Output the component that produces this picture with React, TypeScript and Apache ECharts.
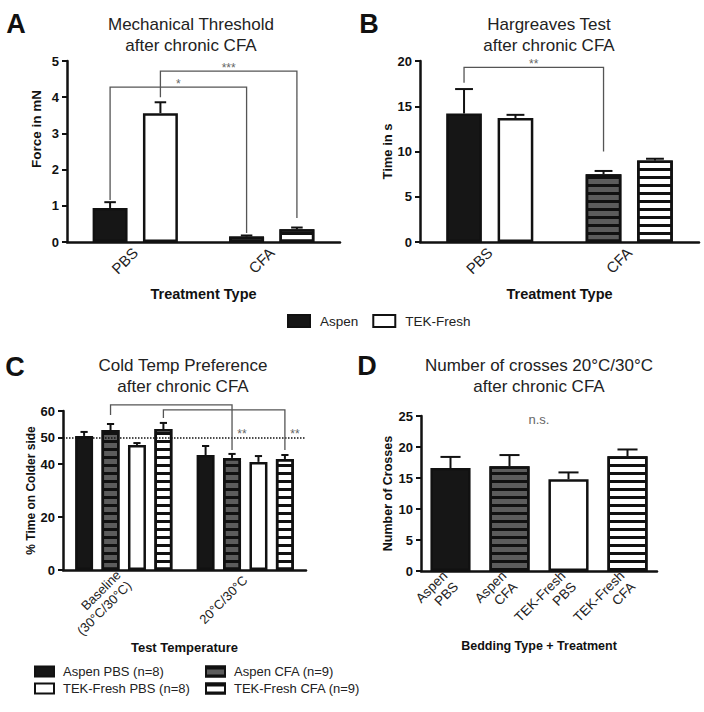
import React, { useEffect, useRef } from 'react';
import * as echarts from 'echarts';

// ---------- data ----------
const treatmentCats = ['PBS', 'CFA'];
const beddingNames = ['Aspen', 'TEK-Fresh'];

const mechAspen = [0.94, 0.15];
const mechAspenErr = [1.1, 0.18];
const mechTek = [3.56, 0.35];
const mechTekErr = [3.86, 0.4];

const hargAspen = [14.2, 7.5];
const hargAspenErr = [16.9, 7.85];
const hargTek = [13.7, 9.0];
const hargTekErr = [14.05, 9.2];

const tempCats = ['Baseline\n(30°C/30°C)', '20°C/30°C'];
const coldNames = ['Aspen PBS (n=8)', 'Aspen CFA (n=9)', 'TEK-Fresh PBS (n=8)', 'TEK-Fresh CFA (n=9)'];
const coldAspenPBS = [50.6, 43.4];
const coldAspenPBSErr = [52.1, 46.8];
const coldAspenCFA = [52.8, 42.3];
const coldAspenCFAErr = [55.1, 43.8];
const coldTekPBS = [47.2, 40.8];
const coldTekPBSErr = [47.9, 43.0];
const coldTekCFA = [53.2, 41.9];
const coldTekCFAErr = [55.5, 43.4];
const coldTicks = [0, 20, 40, 50, 60];
const coldReference = 50;

const crossCats = ['Aspen\nPBS', 'Aspen\nCFA', 'TEK-Fresh\nPBS', 'TEK-Fresh\nCFA'];
const crossMeans = [16.6, 16.9, 14.8, 18.5];
const crossErr = [18.4, 18.7, 15.9, 19.6];

// significance brackets: [category, seriesIndex, start value] -> [category, seriesIndex, end value], top value
const mechBrackets = [
  { c1: 0, s1: 0, y1: 1.16, c2: 1, s2: 0, y2: 0.25, top: 4.28, text: '*', mode: 'top' },
  { c1: 0, s1: 1, y1: 4.0, c2: 1, s2: 1, y2: 0.66, top: 4.72, text: '***', mode: 'top' },
];
const hargBrackets = [
  { c1: 0, s1: 0, y1: 17.6, c2: 1, s2: 0, y2: 10.0, top: 19.3, text: '**', mode: 'top' },
];
const coldBrackets = [
  { c1: 0, s1: 1, y1: 58.5, c2: 1, s2: 1, y2: 45.3, top: 62.3, text: '**', mode: 'side', labelY: 51.3 },
  { c1: 0, s1: 3, y1: 57.4, c2: 1, s2: 3, y2: 45.3, top: 60.4, text: '**', mode: 'side', labelY: 51.3 },
];
const crossNote = 'n.s.';
const crossNoteY = 24.4;

// ---------- styles ----------
const FONT = '"Liberation Sans", Arial, Helvetica, sans-serif';
const INK = '#111';
const stripe = { symbol: 'rect', symbolSize: 1, dashArrayX: [1, 0], dashArrayY: [3, 5], rotation: 0, color: INK };
const ST = {
  aspenPBS: { color: '#161616', borderColor: INK, borderWidth: 2.5 },
  tekPBS: { color: '#ffffff', borderColor: INK, borderWidth: 2.5 },
  aspenCFA: { color: '#5c5c5c', borderColor: INK, borderWidth: 2.5, decal: stripe },
  tekCFA: { color: '#ffffff', borderColor: INK, borderWidth: 2.5, decal: stripe },
};

function xAxisOf(gi: number, cats: string[], name: string, nameGap: number, nameSize: number, labelSize: number) {
  return {
    type: 'category', gridIndex: gi, data: cats, name, nameLocation: 'middle', nameGap,
    nameTextStyle: { fontFamily: FONT, fontWeight: 'bold', fontSize: nameSize, color: INK },
    axisLine: { lineStyle: { color: INK, width: 2.5 } },
    axisTick: { alignWithLabel: true, length: 6, lineStyle: { color: INK, width: 2 } },
    axisLabel: { rotate: 45, margin: 8, fontFamily: FONT, fontSize: labelSize, color: '#222', interval: 0, lineHeight: labelSize + 2 },
    splitLine: { show: false },
  };
}

function yAxisOf(gi: number, max: number, interval: number, name: string, nameGap: number, nameSize: number, custom?: number[]) {
  const ax: any = {
    type: 'value', gridIndex: gi, min: 0, max, interval, name, nameLocation: 'middle', nameGap,
    nameTextStyle: { fontFamily: FONT, fontWeight: 'bold', fontSize: nameSize, color: INK },
    axisLine: { show: true, lineStyle: { color: INK, width: 2.5 } },
    axisTick: { show: true, length: 5, lineStyle: { color: INK, width: 2 } },
    axisLabel: { margin: 8, fontFamily: FONT, fontWeight: 'bold', fontSize: 13, color: INK },
    splitLine: { show: false },
  };
  if (custom) {
    ax.axisLabel.customValues = custom;
    ax.axisTick.customValues = custom;
  }
  return ax;
}

function errData(means: number[][], errs: number[][]) {
  const out: number[][] = [];
  means.forEach((m, s) => m.forEach((v, c) => out.push([c, v, errs[s][c], s])));
  return out;
}

function errorSeries(gi: number, n: number, wFrac: number, gap: number, capFrac: number, data: number[][]) {
  return {
    type: 'custom', xAxisIndex: gi, yAxisIndex: gi, z: 5, silent: true, clip: false,
    data,
    renderItem: (params: any, api: any) => {
      const cat = api.value(0), mean = api.value(1), err = api.value(2), s = api.value(3);
      const band = api.size([1, 0])[0];
      const bw = band * wFrac;
      const off = (s - (n - 1) / 2) * bw * (1 + gap);
      const p0 = api.coord([cat, mean]);
      const p1 = api.coord([cat, err]);
      const x = p0[0] + off;
      const cap = (bw * capFrac) / 2;
      const st = { stroke: INK, lineWidth: 2 };
      return {
        type: 'group',
        children: [
          { type: 'line', shape: { x1: x, y1: p0[1], x2: x, y2: p1[1] }, style: st },
          { type: 'line', shape: { x1: x - cap, y1: p1[1], x2: x + cap, y2: p1[1] }, style: st },
        ],
      };
    },
  };
}

function bracketSeries(gi: number, n: number, wFrac: number, gap: number, brackets: any[]) {
  return {
    type: 'custom', xAxisIndex: gi, yAxisIndex: gi, z: 6, silent: true, clip: false,
    data: brackets.map((b) => [b.c1, b.y1]),
    renderItem: (params: any, api: any) => {
      const b = brackets[params.dataIndex];
      const band = api.size([1, 0])[0];
      const bw = band * wFrac;
      const offOf = (s: number) => (s - (n - 1) / 2) * bw * (1 + gap);
      const a = api.coord([b.c1, b.y1]);
      const c = api.coord([b.c2, b.y2]);
      const t = api.coord([b.c1, b.top]);
      const xa = a[0] + offOf(b.s1);
      const xc = c[0] + offOf(b.s2);
      const children: any[] = [
        {
          type: 'polyline',
          shape: { points: [[xa, a[1]], [xa, t[1]], [xc, t[1]], [xc, c[1]]] },
          style: { stroke: '#555', lineWidth: 1.3, fill: 'none' },
        },
      ];
      let lx: number, ly: number;
      if (b.mode === 'top') {
        lx = (xa + xc) / 2;
        ly = t[1] - 3;
      } else {
        lx = xc + 10;
        ly = api.coord([b.c2, b.labelY])[1];
      }
      children.push({
        type: 'text',
        style: { text: b.text, x: lx, y: ly, align: 'center', verticalAlign: 'middle', fill: '#666', fontSize: 12, fontFamily: FONT },
      });
      return { type: 'group', children };
    },
  };
}

function noteSeries(gi: number, c1: number, c2: number, y: number, text: string) {
  return {
    type: 'custom', xAxisIndex: gi, yAxisIndex: gi, z: 6, silent: true, clip: false,
    data: [[c1, y]],
    renderItem: (params: any, api: any) => {
      const p1 = api.coord([c1, y]);
      const p2 = api.coord([c2, y]);
      return {
        type: 'text',
        style: { text, x: (p1[0] + p2[0]) / 2, y: p1[1], align: 'center', verticalAlign: 'middle', fill: '#666', fontSize: 13, fontFamily: FONT },
      };
    },
  };
}

function buildOption() {
  const W_AB = 0.256, G_AB = 0.44;
  const W_C = 0.148, G_C = 0.47;
  const W_D = 0.68;

  const pbsCfa = (vals: number[], pbs: any, cfa: any) =>
    vals.map((v, i) => ({ value: v, itemStyle: treatmentCats[i] === 'CFA' ? cfa : pbs }));

  const titleStyle = { fontFamily: FONT, fontSize: 17, fontWeight: 'normal', color: '#222', lineHeight: 21 };
  const letter = (t: string, x: number, y: number) => ({
    type: 'text', x, y,
    style: { text: t, align: 'center', verticalAlign: 'middle', fontFamily: FONT, fontWeight: 'bold', fontSize: 27, fill: INK },
  });
  const legendText = { fontFamily: FONT, fontSize: 13, color: '#222', padding: [0, 0, 0, 4] };

  const coldMeans = [coldAspenPBS, coldAspenCFA, coldTekPBS, coldTekCFA];
  const coldErrs = [coldAspenPBSErr, coldAspenCFAErr, coldTekPBSErr, coldTekCFAErr];
  const coldStyles = [ST.aspenPBS, ST.aspenCFA, ST.tekPBS, ST.tekCFA];
  const crossStyles = [ST.aspenPBS, ST.aspenCFA, ST.tekPBS, ST.tekCFA];

  return {
    animation: false,
    backgroundColor: '#ffffff',
    textStyle: { fontFamily: FONT },
    title: [
      { text: 'Mechanical Threshold\nafter chronic CFA', left: 191, top: 14, textAlign: 'center', padding: 0, textStyle: titleStyle },
      { text: 'Hargreaves Test\nafter chronic CFA', left: 549, top: 14, textAlign: 'center', padding: 0, textStyle: titleStyle },
      { text: 'Cold Temp Preference\nafter chronic CFA', left: 183, top: 355, textAlign: 'center', padding: 0, textStyle: titleStyle },
      { text: 'Number of crosses 20°C/30°C\nafter chronic CFA', left: 539, top: 355, textAlign: 'center', padding: 0, textStyle: titleStyle },
    ],
    graphic: [
      letter('A', 16, 24), letter('B', 369, 24), letter('C', 15, 367), letter('D', 367, 366),
      {
        type: 'text', x: 36, y: 129, rotation: Math.PI / 2,
        style: { text: 'Force in mN', align: 'center', verticalAlign: 'middle', fontFamily: FONT, fontWeight: 'bold', fontSize: 13.5, fill: INK },
      },
    ],
    legend: [
      {
        data: beddingNames, left: 287, top: 314, itemWidth: 22, itemHeight: 12, itemGap: 14, icon: 'rect',
        selectedMode: false, padding: 0, textStyle: { ...legendText, fontSize: 13.5, padding: [0, 0, 0, 5] },
      },
      {
        data: [coldNames[0], coldNames[2]], orient: 'vertical', left: 34, top: 665, itemWidth: 19, itemHeight: 10,
        itemGap: 4, icon: 'rect', selectedMode: false, padding: 0, textStyle: legendText,
      },
      {
        data: [coldNames[1], coldNames[3]], orient: 'vertical', left: 205, top: 665, itemWidth: 19, itemHeight: 10,
        itemGap: 4, icon: 'rect', selectedMode: false, padding: 0, textStyle: legendText,
      },
    ],
    grid: [
      { left: 67, top: 61, width: 273, height: 181, outerBoundsMode: 'none' },
      { left: 420, top: 61, width: 279, height: 181, outerBoundsMode: 'none' },
      { left: 63, top: 411, width: 243, height: 159, outerBoundsMode: 'none' },
      { left: 421, top: 416, width: 236, height: 155, outerBoundsMode: 'none' },
    ],
    xAxis: [
      xAxisOf(0, treatmentCats, 'Treatment Type', 44, 14.5, 15),
      xAxisOf(1, treatmentCats, 'Treatment Type', 44, 14.5, 15),
      xAxisOf(2, tempCats, 'Test Temperature', 65, 13, 13),
      xAxisOf(3, crossCats, 'Bedding Type + Treatment', 62, 12.5, 13.5),
    ],
    yAxis: [
      yAxisOf(0, 5, 1, '', 25, 13.5),
      yAxisOf(1, 20, 5, 'Time in s', 23, 13),
      yAxisOf(2, 60, 10, '% Time on Colder side', 23, 12, coldTicks),
      yAxisOf(3, 25, 5, 'Number of Crosses', 22, 12.5),
    ],
    series: [
      // Panel A
      { type: 'bar', name: beddingNames[0], xAxisIndex: 0, yAxisIndex: 0, barWidth: W_AB * 100 + '%', barGap: G_AB * 100 + '%', itemStyle: ST.aspenPBS, data: pbsCfa(mechAspen, ST.aspenPBS, ST.aspenCFA) },
      { type: 'bar', name: beddingNames[1], xAxisIndex: 0, yAxisIndex: 0, barWidth: W_AB * 100 + '%', barGap: G_AB * 100 + '%', itemStyle: ST.tekPBS, data: pbsCfa(mechTek, ST.tekPBS, ST.tekCFA) },
      errorSeries(0, 2, W_AB, G_AB, 0.33, errData([mechAspen, mechTek], [mechAspenErr, mechTekErr])),
      bracketSeries(0, 2, W_AB, G_AB, mechBrackets),
      // Panel B
      { type: 'bar', name: beddingNames[0], xAxisIndex: 1, yAxisIndex: 1, barWidth: W_AB * 100 + '%', barGap: G_AB * 100 + '%', itemStyle: ST.aspenPBS, data: pbsCfa(hargAspen, ST.aspenPBS, ST.aspenCFA) },
      { type: 'bar', name: beddingNames[1], xAxisIndex: 1, yAxisIndex: 1, barWidth: W_AB * 100 + '%', barGap: G_AB * 100 + '%', itemStyle: ST.tekPBS, data: pbsCfa(hargTek, ST.tekPBS, ST.tekCFA) },
      errorSeries(1, 2, W_AB, G_AB, 0.5, errData([hargAspen, hargTek], [hargAspenErr, hargTekErr])),
      bracketSeries(1, 2, W_AB, G_AB, hargBrackets),
      // Panel C
      ...coldNames.map((nm, s) => ({
        type: 'bar', name: nm, xAxisIndex: 2, yAxisIndex: 2, barWidth: W_C * 100 + '%', barGap: G_C * 100 + '%',
        itemStyle: coldStyles[s], data: coldMeans[s],
        ...(s === 0
          ? {
              markLine: {
                silent: true, symbol: 'none', label: { show: false },
                lineStyle: { type: 'dotted', color: INK, width: 1.5 },
                data: [{ yAxis: coldReference }],
              },
            }
          : {}),
      })),
      errorSeries(2, 4, W_C, G_C, 0.4, errData(coldMeans, coldErrs)),
      bracketSeries(2, 4, W_C, G_C, coldBrackets),
      // Panel D
      {
        type: 'bar', name: 'Number of crosses', xAxisIndex: 3, yAxisIndex: 3, barWidth: W_D * 100 + '%',
        itemStyle: ST.aspenPBS, data: crossMeans.map((v, i) => ({ value: v, itemStyle: crossStyles[i] })),
      },
      errorSeries(3, 1, W_D, 0, 0.5, errData([crossMeans], [crossErr])),
      noteSeries(3, 1, 2, crossNoteY, crossNote),
    ],
  };
}

export default function App() {
  const ref = useRef<HTMLDivElement>(null);
  useEffect(() => {
    if (!ref.current) return;
    const chart = echarts.init(ref.current, null, { renderer: 'svg' });
    chart.setOption(buildOption() as any);
    return () => chart.dispose();
  }, []);
  return <div ref={ref} style={{ position: 'absolute', left: 0, top: 0, width: 704, height: 712 }} />;
}
